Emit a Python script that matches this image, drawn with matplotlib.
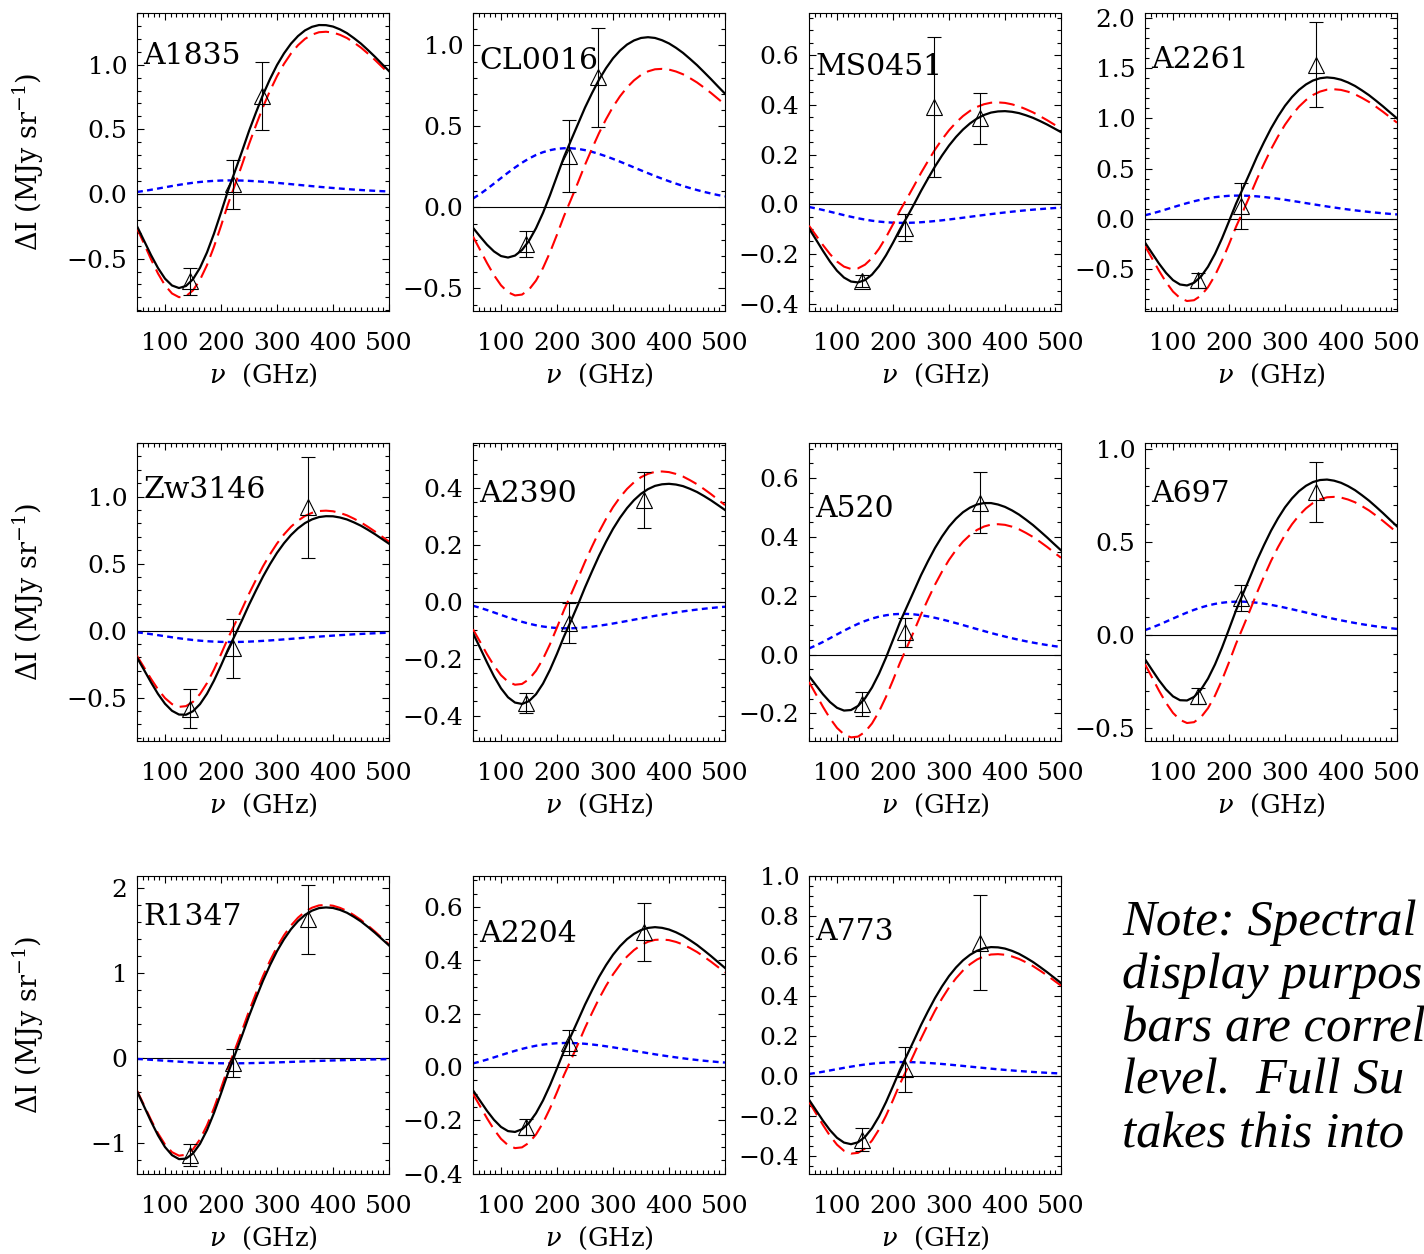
import matplotlib
matplotlib.use("Agg")
import matplotlib.pyplot as plt
import numpy as np
from matplotlib.ticker import MultipleLocator

plt.rcParams['font.family'] = ['DejaVu Serif']
plt.rcParams['mathtext.fontset'] = 'dejavuserif'

# ---------------- data ----------------
FREQ_GHZ = [50, 62.5, 75, 87.5, 100, 112.5, 125, 137.5, 150, 162.5, 175, 187.5,
            200, 212.5, 225, 237.5, 250, 262.5, 275, 287.5, 300, 312.5, 325,
            337.5, 350, 362.5, 375, 387.5, 400, 412.5, 425, 437.5, 450, 462.5,
            475, 487.5, 500]
# thermal SZ spectral shape (peak normalised to 1)
TSZ_SHAPE = [-0.211, -0.306, -0.402, -0.490, -0.563, -0.613, -0.636, -0.630,
             -0.594, -0.529, -0.438, -0.325, -0.197, -0.063, 0.057, 0.180,
             0.307, 0.424, 0.536, 0.636, 0.726, 0.802, 0.866, 0.917, 0.956,
             0.982, 0.997, 1.000, 0.995, 0.981, 0.961, 0.933, 0.902, 0.865,
             0.826, 0.784, 0.742]
# kinetic SZ spectral shape (peak normalised to 1)
KSZ_SHAPE = [0.149, 0.225, 0.310, 0.402, 0.495, 0.587, 0.674, 0.755, 0.826,
             0.886, 0.933, 0.967, 0.991, 1.000, 1.000, 0.989, 0.968, 0.939,
             0.904, 0.864, 0.820, 0.773, 0.725, 0.675, 0.626, 0.578, 0.530,
             0.485, 0.442, 0.401, 0.362, 0.326, 0.293, 0.262, 0.234, 0.208,
             0.185]

CLUSTERS = ["A1835", "CL0016", "MS0451", "A2261",
            "Zw3146", "A2390", "A520", "A697",
            "R1347", "A2204", "A773"]
TSZ_PEAK = [1.255, 0.855, 0.41, 1.29, 0.895, 0.458, 0.443, 0.744, 1.80, 0.478, 0.61]
KSZ_PEAK = [0.105, 0.365, -0.075, 0.23, -0.085, -0.093, 0.138, 0.18, -0.06, 0.09, 0.07]

OBS_FREQ = [[145, 221, 273], [145, 221, 273], [145, 221, 273, 355], [145, 221, 355],
            [145, 221, 355], [145, 221, 355], [145, 221, 355], [145, 221, 355],
            [145, 221, 355], [145, 221, 355], [145, 221, 355]]
OBS_DI = [[-0.674, 0.075, 0.758], [-0.225, 0.319, 0.803], [-0.31, -0.095, 0.391, 0.346],
          [-0.615, 0.127, 1.535], [-0.582, -0.131, 0.919], [-0.357, -0.074, 0.357],
          [-0.168, 0.075, 0.516], [-0.328, 0.20, 0.769], [-1.135, -0.057, 1.633],
          [-0.225, 0.091, 0.506], [-0.318, 0.033, 0.666]]
OBS_ERR = [[0.104, 0.19, 0.266], [0.08, 0.222, 0.307], [0.024, 0.054, 0.282, 0.103],
           [0.075, 0.233, 0.425], [0.148, 0.22, 0.378], [0.035, 0.07, 0.098],
           [0.04, 0.049, 0.103], [0.045, 0.072, 0.161], [0.127, 0.167, 0.406],
           [0.031, 0.047, 0.109], [0.058, 0.1125, 0.2375]]

NOTE_LINES = ["Note: Spectral", "display purpos", "bars are correl",
              "level.  Full Su", "takes this into"]

# ---------------- layout / style ----------------
YLIMS = [(-0.905, 1.40), (-0.64, 1.20), (-0.43, 0.77), (-0.92, 2.05),
         (-0.824, 1.40), (-0.489, 0.558), (-0.294, 0.719), (-0.57, 1.034),
         (-1.36, 2.14), (-0.401, 0.716), (-0.49, 1.001)]
Y_MAJOR = [0.5, 0.5, 0.2, 0.5, 0.5, 0.2, 0.2, 0.5, 1.0, 0.2, 0.2]
Y_MINOR = [0.1, 0.1, 0.05, 0.1, 0.1, 0.05, 0.05, 0.1, 0.2, 0.05, 0.05]
NAME_Y = [0.856, 0.838, 0.818, 0.841, 0.842, 0.828, 0.778, 0.828, 0.861, 0.804, 0.811]

W, H = 1424, 1254
fig = plt.figure(figsize=(W / 100, H / 100), dpi=100)
COL_LEFT = [137, 473, 809, 1145]
ROW_TOP = [13, 443, 876]
AX_W, AX_H = 252, 298

freq = np.array(FREQ_GHZ, dtype=float)
tsz_shape = np.array(TSZ_SHAPE)
ksz_shape = np.array(KSZ_SHAPE)

for i, name in enumerate(CLUSTERS):
    r, c = divmod(i, 4)
    left = COL_LEFT[c] / W
    bottom = 1 - (ROW_TOP[r] + AX_H) / H
    ax = fig.add_axes([left, bottom, AX_W / W, AX_H / H])

    tsz = TSZ_PEAK[i] * tsz_shape
    ksz = KSZ_PEAK[i] * ksz_shape
    total = tsz + ksz

    ax.axhline(0, color='black', lw=0.8, zorder=1)
    ax.plot(freq, ksz, color='#0000ff', lw=1.7, linestyle=(0, (2.5, 1.8)), zorder=2)
    ax.plot(freq, tsz, color='#ff0000', lw=1.5, linestyle=(0, (7.5, 3.4)), zorder=3)
    ax.plot(freq, total, color='black', lw=1.6, zorder=4)
    ax.errorbar(OBS_FREQ[i], OBS_DI[i], yerr=OBS_ERR[i], fmt='^', ms=12,
                mfc='none', mec='black', mew=0.8, ecolor='black',
                elinewidth=0.8, capsize=4.7, capthick=0.8, zorder=5)

    ax.set_xlim(50, 500)
    ax.set_ylim(*YLIMS[i])
    ax.xaxis.set_major_locator(MultipleLocator(100))
    ax.xaxis.set_minor_locator(MultipleLocator(10))
    ax.yaxis.set_major_locator(MultipleLocator(Y_MAJOR[i]))
    ax.yaxis.set_minor_locator(MultipleLocator(Y_MINOR[i]))
    ax.tick_params(which='both', direction='in', top=True, right=True,
                   width=0.8, colors='black')
    ax.tick_params(which='major', length=5, labelsize=18)
    ax.tick_params(which='minor', length=2.6)
    ax.tick_params(axis='x', which='major', pad=15)
    ax.tick_params(axis='y', which='major', pad=7)
    for sp in ax.spines.values():
        sp.set_linewidth(0.8)

    ax.text(0.025, NAME_Y[i], name, transform=ax.transAxes, fontsize=21.5,
            ha='left', va='center')

    ax.set_xlabel(r'$\nu$  (GHz)', fontsize=18.5)
    ax.xaxis.set_label_coords(0.5, -0.172)
    if c == 0:
        ax.set_ylabel(r'ΔI (MJy sr$^{-1}$)', fontsize=19.5)
        ax.yaxis.set_label_coords(-0.36, 0.5)

NOTE_BASELINES = [935, 988, 1042, 1093, 1147]
for line, yb in zip(NOTE_LINES, NOTE_BASELINES):
    fig.text(1122 / W, 1 - yb / H, line, fontsize=36.5, style='italic',
             family=['Liberation Serif', 'DejaVu Serif'], ha='left', va='baseline')

fig.savefig('out.png', dpi=100)
